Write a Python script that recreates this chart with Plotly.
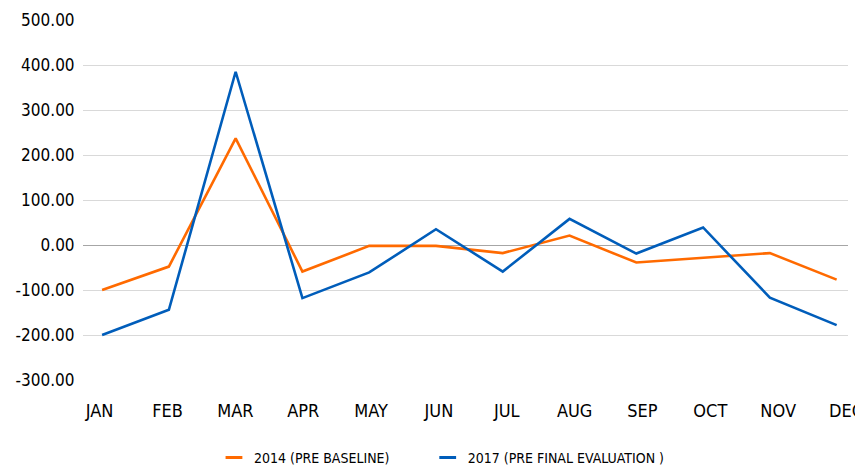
import plotly.graph_objects as go

months = ["JAN", "FEB", "MAR", "APR", "MAY", "JUN", "JUL", "AUG", "SEP", "OCT", "NOV", "DEC"]
series_2014 = [-100, -48, 237, -59, -2, -2, -18, 21, -39, -29, -18, -77]
series_2017 = [-200, -144, 385, -118, -61, 35, -59, 58, -19, 39, -117, -178]
name_2014 = "2014 (PRE BASELINE)"
name_2017 = "2017 (PRE FINAL EVALUATION )"
yticks = [-300, -200, -100, 0, 100, 200, 300, 400, 500]

ORANGE = "#FF6A00"
BLUE = "#005DBA"
FONT = "DejaVu Sans Condensed, Liberation Sans Narrow, Roboto, sans-serif"

fig = go.Figure()
fig.add_trace(go.Scatter(x=months, y=series_2014, mode="lines", line=dict(color=ORANGE, width=2.6),
                         showlegend=False, hoverinfo="skip"))
fig.add_trace(go.Scatter(x=months, y=series_2017, mode="lines", line=dict(color=BLUE, width=2.6),
                         showlegend=False, hoverinfo="skip"))
# legend entries (short dash swatches)
fig.add_trace(go.Scatter(x=[None], y=[None], mode="markers", name=name_2014, legend="legend",
                         xaxis="x2",
                         marker=dict(symbol="line-ew", size=12, line=dict(color=ORANGE, width=3))))
fig.add_trace(go.Scatter(x=[None], y=[None], mode="markers", name=name_2017, legend="legend2",
                         xaxis="x2",
                         marker=dict(symbol="line-ew", size=12, line=dict(color=BLUE, width=3))))

legend_common = dict(orientation="h", xanchor="left", xref="paper",
                     y=0.02, yanchor="middle", yref="container",
                     font=dict(family=FONT, size=14), itemsizing="trace",
                     bgcolor="rgba(0,0,0,0)")

fig.update_layout(
    width=855, height=459,
    margin=dict(l=75, r=0, t=12, b=87),
    paper_bgcolor="white", plot_bgcolor="white",
    font=dict(family=FONT, size=17, color="#000000"),
    showlegend=True,
    legend=dict(x=0.1712, **legend_common),
    legend2=dict(x=0.4506, **legend_common),
    xaxis=dict(type="category", categoryarray=months, range=[-0.286, 11.17],
               showgrid=False, zeroline=False, showline=False, showticklabels=False,
               ticks=""),
    # month labels axis (labels in the reference sit on a slightly wider spacing)
    xaxis2=dict(overlaying="x", anchor="y", side="bottom", type="linear",
                range=[-0.2457, 11.029],
                tickvals=list(range(len(months))), ticktext=months,
                ticklabeloverflow="allow",
                showgrid=False, zeroline=False, showline=False,
                ticks="outside", ticklen=14, tickcolor="rgba(0,0,0,0)",
                tickfont=dict(family=FONT, size=18)),
)
fig.update_yaxes(range=[-300, 500], tickvals=yticks,
                 ticktext=[f"{v:.2f}" for v in yticks],
                 showgrid=True, gridcolor="#D9D9D9", gridwidth=1,
                 zeroline=True, zerolinecolor="#A6A6A6", zerolinewidth=1,
                 ticks="outside", ticklen=4, tickcolor="rgba(0,0,0,0)",
                 tickfont=dict(family=FONT, size=17))

fig.write_html("out.html")
